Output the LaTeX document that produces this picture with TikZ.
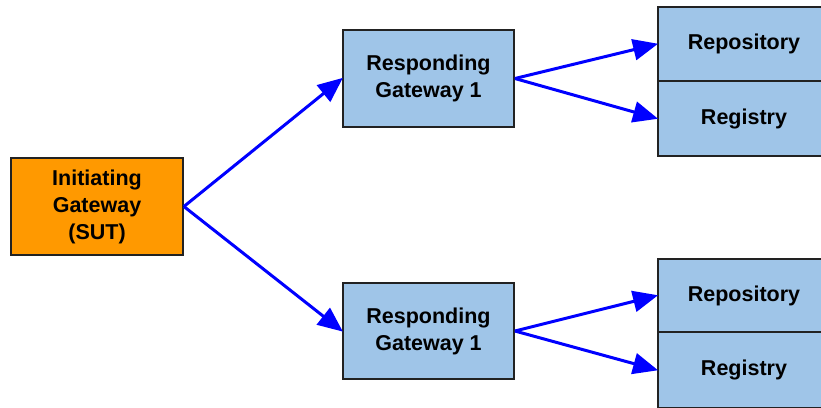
\documentclass[tikz,border=0pt]{standalone}
\usepackage{fontspec}
\setmainfont{Liberation Sans}
\usetikzlibrary{arrows.meta}
\definecolor{boxorange}{HTML}{FF9900}
\definecolor{boxblue}{HTML}{9FC5E8}
\definecolor{edgeblue}{HTML}{0000FF}
\definecolor{border}{HTML}{222222}
\begin{document}
\begin{tikzpicture}[x=1pt,y=-1pt,
  box/.style={draw=border,line width=1.8pt,rectangle,inner sep=0pt,align=center,
    font=\fontsize{21.5}{27}\selectfont\bfseries},
  arr/.style={draw=edgeblue,line width=3pt,-{Triangle[length=25pt,width=21pt]},shorten >=-1pt}]
\useasboundingbox (0,0) rectangle (821,407);
\clip (0,0) rectangle (821,407);
\node[box,fill=boxorange,minimum width=172pt,minimum height=97pt] (ig) at (97,206.5) {Initiating\\Gateway\\(SUT)};
\node[box,fill=boxblue,minimum width=171pt,minimum height=97pt] (rg1) at (428.5,78.5) {Responding\\Gateway 1};
\node[box,fill=boxblue,minimum width=171pt,minimum height=96pt] (rg2) at (428.5,331) {Responding\\Gateway 1};
\node[box,fill=boxblue,minimum width=172pt,minimum height=74pt] (repo1) at (744,44) {Repository};
\node[box,fill=boxblue,minimum width=172pt,minimum height=75pt] (reg1) at (744,118.5) {Registry};
\node[box,fill=boxblue,minimum width=172pt,minimum height=73pt] (repo2) at (744,295.5) {Repository};
\node[box,fill=boxblue,minimum width=172pt,minimum height=76pt] (reg2) at (744,370) {Registry};
\draw[arr] (ig.east) -- (rg1.west);
\draw[arr] (ig.east) -- (rg2.west);
\draw[arr] (rg1.east) -- (repo1.west);
\draw[arr] (rg1.east) -- (reg1.west);
\draw[arr] (rg2.east) -- (repo2.west);
\draw[arr] (rg2.east) -- (reg2.west);
\end{tikzpicture}
\end{document}
